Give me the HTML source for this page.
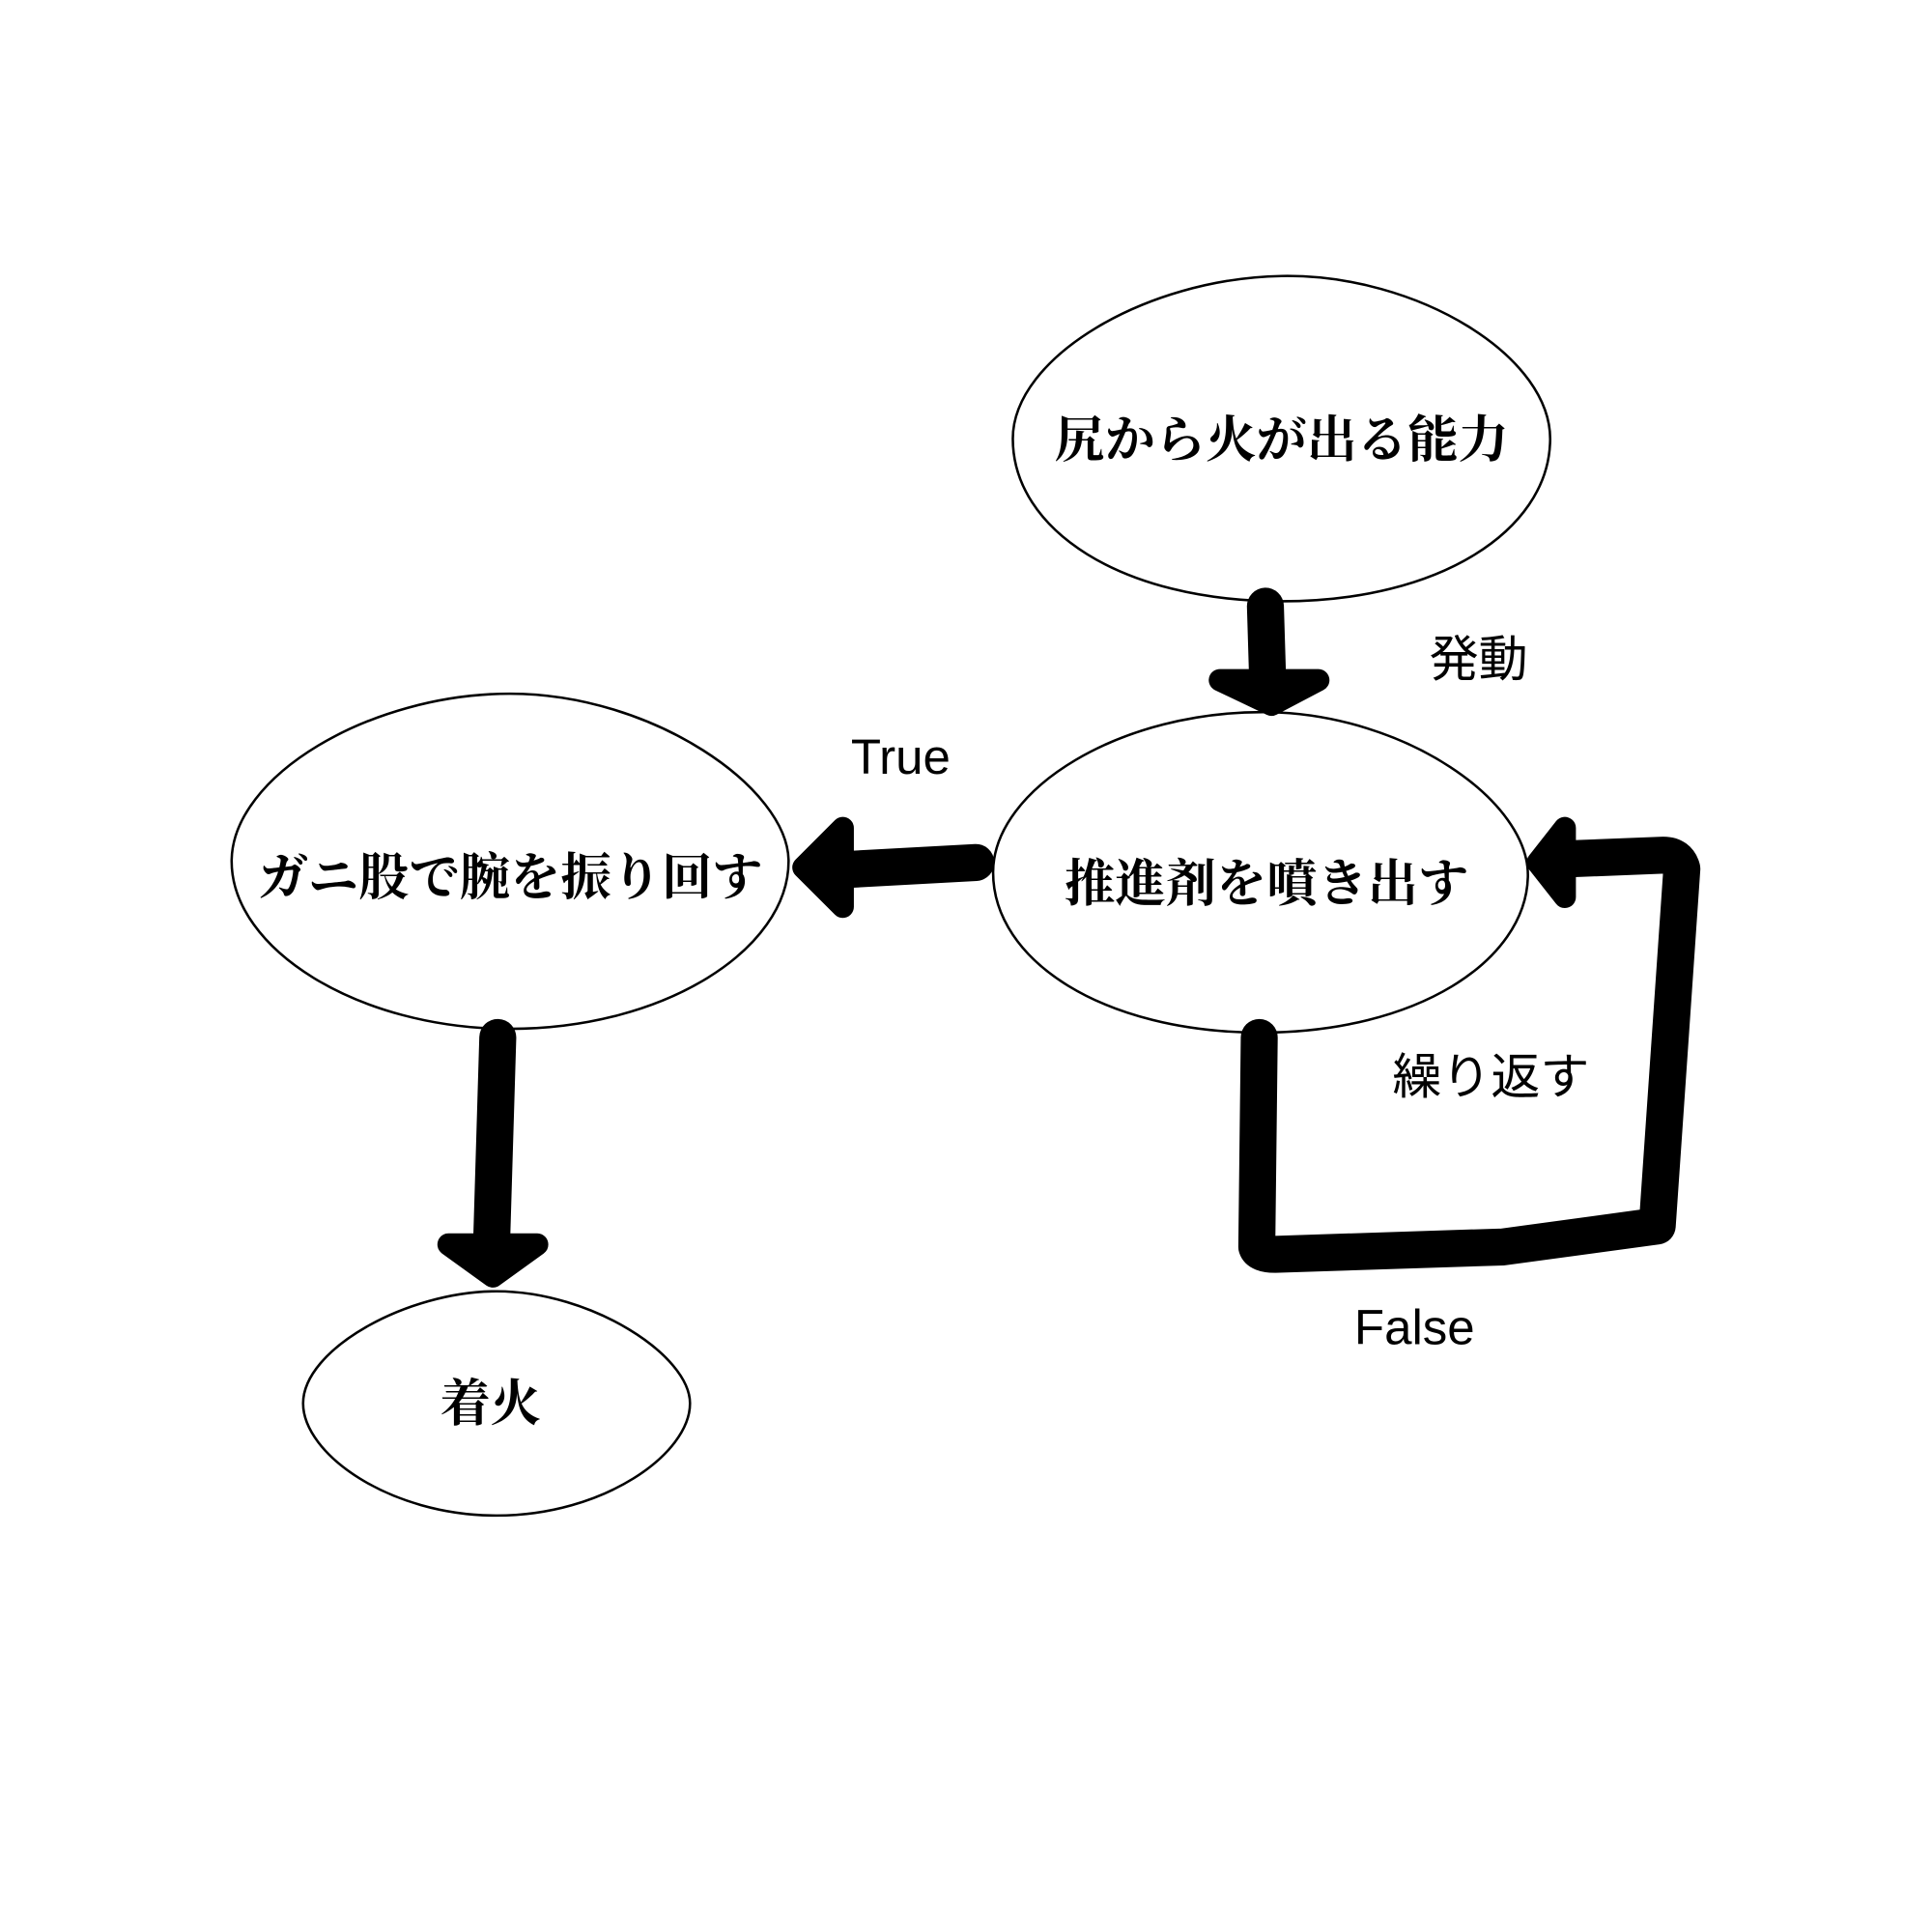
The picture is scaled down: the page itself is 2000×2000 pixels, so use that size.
<!DOCTYPE html>
<html><head><meta charset="utf-8"><style>html,body{margin:0;padding:0;background:#fff}svg{display:block}</style></head>
<body>
<svg width="2000" height="2000" viewBox="0 0 1568 1568" xmlns="http://www.w3.org/2000/svg">
<rect width="1568" height="1568" fill="#fff"/>
<g fill="#fff" stroke="#000" stroke-width="2">
<path d="M1040,224 C1150,222 1262,290 1258,360 C1255,430 1170,488 1040,488 C910,488 822,430 822,356 C822,290 930,226 1040,224 Z"/>
<path d="M1030,578 C1140,580 1242,650 1240,712 C1238,780 1150,838 1023,838 C896,838 806,780 806,708 C806,640 910,576 1030,578 Z"/>
<path d="M414,563 C530,563 640,640 640,699 C640,770 540,835 414,835 C290,835 188,770 188,699 C188,630 300,563 414,563 Z"/>
<path d="M403,1048 C480,1048 560,1100 560,1139 C560,1180 490,1230 403,1230 C316,1230 246,1180 246,1139 C246,1095 330,1048 403,1048 Z"/>
</g>
<g fill="none" stroke="#000" stroke-width="30" stroke-linecap="round" stroke-linejoin="round">
<path d="M1027,492 L1029,558"/>
<path d="M792,700 L682,706"/>
<path d="M404,842 L399,1008"/>
<path d="M1022,842 L1020,1012 Q1022,1018 1035,1018 L1220,1012 L1345,995 L1365,705 Q1362,694 1350,694 L1275,697"/>
</g>
<g fill="#000" stroke="#000" stroke-width="18" stroke-linejoin="round">
<polygon points="990,552 1070,552 1032,572"/>
<polygon points="684,672 684,736 652,704"/>
<polygon points="364,1010 436,1010 400,1036"/>
<polygon points="1270,672 1270,728 1248,700"/>
</g>
<g font-family="'Liberation Serif','Noto Serif CJK SC',serif" font-weight="bold" font-size="41" text-anchor="middle">
<text x="1040" y="371">尻から火が出る能力</text>
<text x="1028" y="731">推進剤を噴き出す</text>
<text x="414" y="726">ガニ股で腕を振り回す</text>
<text x="398" y="1153">着火</text>
</g>
<g font-family="'Liberation Sans','Noto Sans CJK JP',sans-serif" font-size="40" text-anchor="middle">
<text x="1200" y="549">発動</text>
<text x="731" y="628">True</text>
<text x="1210" y="888">繰り返す</text>
<text x="1148" y="1091">False</text>
</g>
</svg>
</body></html>
